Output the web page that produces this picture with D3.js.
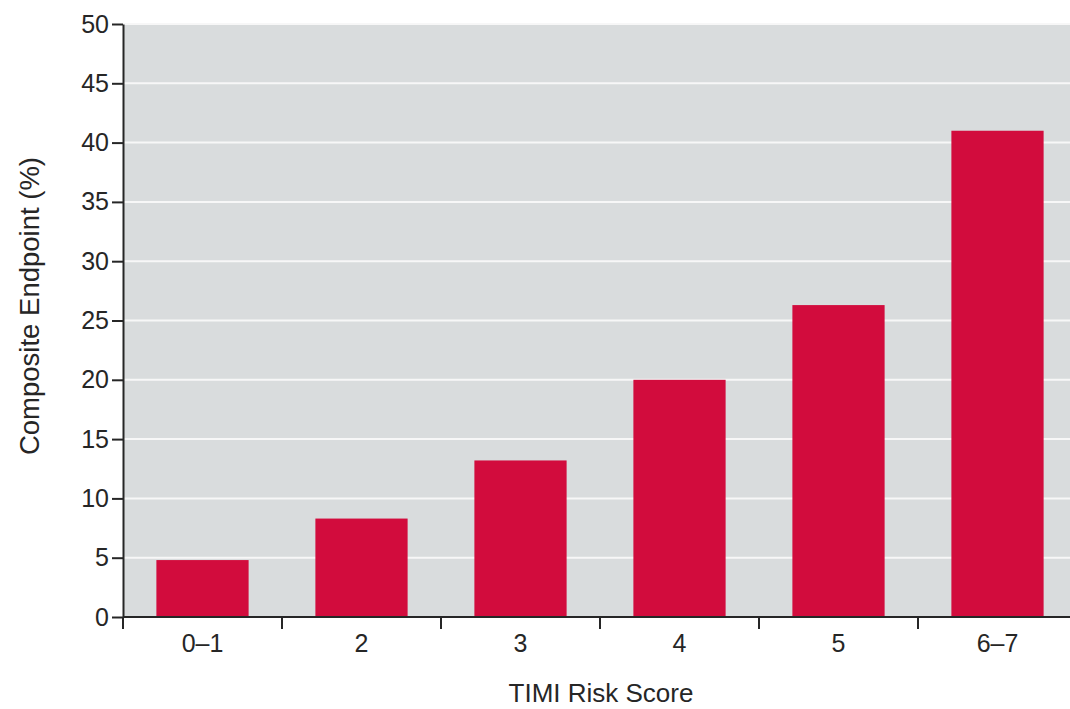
<!DOCTYPE html>
<html><head><meta charset="utf-8">
<script src="https://cdn.jsdelivr.net/npm/d3@7"></script>
<style>body{margin:0;background:#fff;overflow:hidden}svg{display:block}text{font-family:"Liberation Sans",Arial,sans-serif}</style>
</head><body>
<svg id="c" width="1070" height="709"></svg>
<script>
const categories = ["0\u20131","2","3","4","5","6\u20137"];
const values = [4.8, 8.3, 13.2, 20.0, 26.3, 41.0];
const yTicks = [0,5,10,15,20,25,30,35,40,45,50];
const xTitle = "TIMI Risk Score";
const yTitle = "Composite Endpoint (%)";

(function(){
const svg = d3.select("#c");
const pl = 123, pt = 24, pb = 617, band = 159;
const pr = pl + band * categories.length;
const x = d3.scaleBand().domain(categories).range([pl, pr]).paddingInner(0.42).paddingOuter(0.21);
const y = d3.scaleLinear().domain([0,50]).range([pb, pt]);
const ink = "#262626";

svg.append("rect").attr("x", pl).attr("y", pt).attr("width", pr-pl).attr("height", pb-pt).attr("fill", "#d9dcdd");
svg.append("g").selectAll("line").data(yTicks.filter(d=>d>0)).join("line")
  .attr("x1", pl).attr("x2", pr).attr("y1", d=>y(d)).attr("y2", d=>y(d))
  .attr("stroke", "#f7f7f7").attr("stroke-width", 2);

svg.append("g").selectAll("rect").data(values).join("rect")
  .attr("x", (d,i)=>x(categories[i])).attr("width", x.bandwidth())
  .attr("y", d=>y(d)).attr("height", d=>pb-y(d))
  .attr("fill", "#d20c3d");

const yAxis = svg.append("g").attr("transform", `translate(${pl},0)`)
  .call(d3.axisLeft(y).tickValues(yTicks).tickSize(11).tickSizeOuter(0).tickPadding(3));
yAxis.select(".domain").attr("stroke", ink).attr("stroke-width", 2);
yAxis.selectAll(".tick line").attr("stroke", ink).attr("stroke-width", 2);
yAxis.selectAll(".tick text").attr("font-size", 25).attr("fill", ink).attr("font-family", "Liberation Sans, Arial, sans-serif");

const xb = d3.scaleLinear().domain([0, categories.length]).range([pl, pr]);
const xAxis = svg.append("g").attr("transform", `translate(0,${pb})`);
xAxis.append("line").attr("x1", pl).attr("x2", pr).attr("stroke", ink).attr("stroke-width", 2);
xAxis.selectAll("line.tk").data(d3.range(0, categories.length+1)).join("line").attr("class","tk")
  .attr("x1", d=>xb(d)).attr("x2", d=>xb(d)).attr("y1", 0).attr("y2", 12)
  .attr("stroke", ink).attr("stroke-width", 2);
xAxis.selectAll("text").data(categories).join("text")
  .attr("x", d=>x(d)+x.bandwidth()/2).attr("y", 35)
  .attr("text-anchor", "middle").attr("font-size", 25).attr("fill", ink).text(d=>d);

svg.append("text").attr("x", 601).attr("y", 702).attr("text-anchor","middle")
  .attr("font-size", 26).attr("fill", ink).text(xTitle);
svg.append("text").attr("transform", "translate(39,306) rotate(-90)").attr("text-anchor","middle")
  .attr("font-size", 27.5).attr("fill", ink).text(yTitle);
})();
</script>
</body></html>
